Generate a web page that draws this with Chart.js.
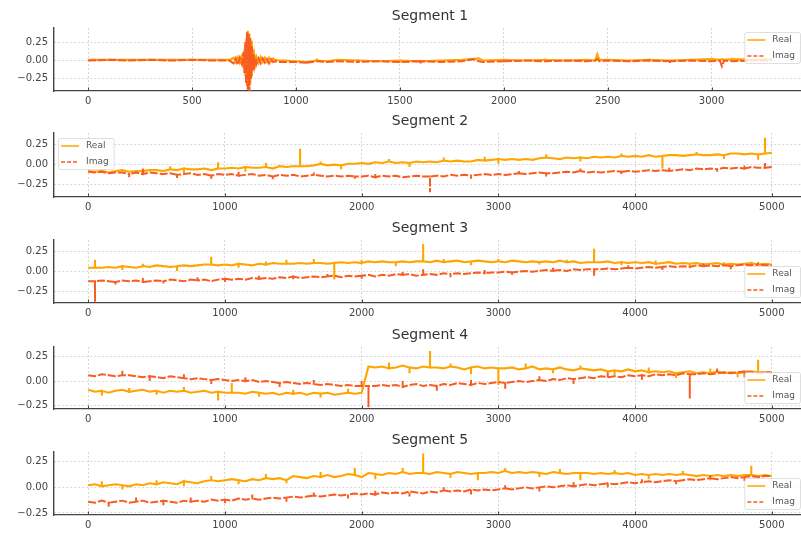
<!DOCTYPE html>
<html><head><meta charset="utf-8">
<script src="https://cdn.jsdelivr.net/npm/chart.js@4"></script>
<style>
html,body{margin:0;padding:0;background:#fff;width:801px;height:536px;overflow:hidden;position:relative;}
canvas{position:absolute;left:0;top:0;}
</style></head><body>
<script>
// ---------- data ----------
const titles = ['Segment 1','Segment 2','Segment 3','Segment 4','Segment 5'];
const seriesLabels = ['Real','Imag'];
const xTicksSeg1 = [0,500,1000,1500,2000,2500,3000];
const xTicks5k = [0,1000,2000,3000,4000,5000];
const yTicks = [-0.25,0,0.25];

const seg1X = [0,100,200,300,400,500,600,680,700,710,720,730,740,748,752,756,760,764,768,772,776,780,784,788,792,796,800,805,810,820,830,840,850,860,870,880,890,900,920,950,1000,1050,1100,1150,1200,1300,1400,1500,1600,1700,1800,1850,1880,1900,2000,2100,2200,2300,2400,2440,2450,2460,2500,2600,2700,2800,2900,3000,3040,3050,3060,3100,3200,3290];
const seg1Real = [0.01,0.01,0.01,0.01,0.01,0.01,0.01,0.01,0.04,-0.02,0.05,-0.03,0.06,-0.10,0.16,-0.22,0.30,-0.36,0.42,-0.40,0.38,-0.34,0.28,-0.22,0.16,-0.10,0.07,-0.04,0.05,-0.03,0.05,-0.02,0.04,-0.02,0.04,-0.01,0.03,0.01,0.00,0.00,-0.01,-0.02,0.00,-0.01,0.01,0.00,-0.01,0.00,-0.01,0.00,0.01,0.02,0.03,0.00,0.01,0.00,0.01,0.00,0.01,0.00,0.09,0.01,0.01,0.00,0.01,0.00,0.01,0.02,0.01,0.02,0.01,0.02,0.01,0.02];
const seg1Imag = [0.00,0.01,0.00,0.01,0.00,0.01,0.00,0.00,-0.04,0.03,-0.06,0.04,-0.05,0.12,-0.18,0.26,-0.33,0.40,-0.42,0.38,-0.44,0.32,-0.26,0.20,-0.14,0.09,-0.06,0.04,-0.05,0.03,-0.04,0.03,-0.03,0.02,-0.04,0.02,-0.02,-0.01,-0.02,-0.02,-0.02,-0.03,-0.01,-0.02,-0.01,-0.02,-0.01,-0.02,-0.01,-0.02,-0.01,0.02,-0.01,-0.02,-0.01,0.00,-0.01,0.00,-0.01,0.00,0.02,-0.01,0.00,-0.01,0.00,-0.01,0.00,-0.01,0.00,-0.08,0.00,-0.01,0.00,0.00];
const seg1RealSpikes = [[1100,0.03],[1500,-0.03],[2200,0.03],[2700,-0.02],[3100,0.04]];
const seg1ImagSpikes = [[1050,-0.05],[1300,0.01],[1600,-0.04],[2000,0.01],[2800,-0.04]];

// segments 2-5: one sample every 50 index units, 0..5000
const seg2Real = [-0.08,-0.09,-0.08,-0.10,-0.08,-0.07,-0.09,-0.08,-0.08,-0.07,-0.07,-0.08,-0.06,-0.07,-0.05,-0.06,-0.06,-0.05,-0.07,-0.05,-0.05,-0.04,-0.05,-0.03,-0.04,-0.04,-0.03,-0.05,-0.02,-0.03,-0.02,-0.02,-0.02,-0.01,0.01,-0.01,0.00,-0.01,0.01,0.01,0.02,0.01,0.03,0.02,0.04,0.02,0.03,0.02,0.04,0.03,0.04,0.03,0.05,0.04,0.05,0.04,0.04,0.06,0.05,0.06,0.07,0.06,0.07,0.06,0.07,0.06,0.08,0.09,0.08,0.07,0.09,0.08,0.09,0.08,0.10,0.09,0.10,0.09,0.11,0.10,0.11,0.10,0.12,0.10,0.11,0.12,0.12,0.11,0.12,0.13,0.12,0.12,0.13,0.12,0.14,0.14,0.13,0.14,0.13,0.14,0.15];
const seg2Imag = [-0.09,-0.10,-0.09,-0.11,-0.10,-0.10,-0.12,-0.10,-0.12,-0.10,-0.11,-0.12,-0.11,-0.13,-0.12,-0.11,-0.13,-0.12,-0.14,-0.12,-0.13,-0.12,-0.14,-0.13,-0.12,-0.14,-0.13,-0.15,-0.13,-0.14,-0.13,-0.15,-0.14,-0.13,-0.14,-0.15,-0.14,-0.15,-0.14,-0.15,-0.15,-0.14,-0.16,-0.14,-0.15,-0.14,-0.16,-0.15,-0.14,-0.15,-0.15,-0.14,-0.15,-0.13,-0.14,-0.13,-0.14,-0.13,-0.12,-0.13,-0.12,-0.13,-0.12,-0.11,-0.12,-0.11,-0.10,-0.11,-0.11,-0.10,-0.09,-0.10,-0.08,-0.10,-0.09,-0.10,-0.09,-0.08,-0.09,-0.08,-0.09,-0.08,-0.07,-0.08,-0.07,-0.08,-0.07,-0.06,-0.07,-0.05,-0.06,-0.05,-0.06,-0.04,-0.05,-0.04,-0.05,-0.03,-0.04,-0.04,-0.03];
const seg2RealSpikes = [[400,-0.13],[600,-0.02],[700,-0.11],[950,0.03],[1150,-0.09],[1300,0.02],[1550,0.20],[1700,0.04],[1850,-0.06],[2200,0.07],[2350,-0.03],[2600,0.09],[2900,0.10],[3000,0.01],[3350,0.13],[3600,0.04],[3900,0.14],[4200,-0.05],[4450,0.16],[4650,0.07],[4900,0.06],[4950,0.34]];
const seg2ImagSpikes = [[300,-0.16],[400,-0.05],[650,-0.17],[900,-0.18],[1100,-0.09],[1350,-0.19],[1650,-0.10],[1950,-0.18],[2100,-0.11],[2500,-0.35],[2800,-0.18],[3150,-0.08],[3350,-0.15],[3600,-0.05],[3900,-0.12],[4250,-0.04],[4600,-0.09],[4800,-0.01],[4950,0.02]];

const seg3Real = [0.05,0.05,0.05,0.06,0.05,0.07,0.06,0.05,0.07,0.06,0.08,0.07,0.06,0.07,0.08,0.07,0.08,0.09,0.09,0.08,0.09,0.08,0.10,0.09,0.08,0.10,0.09,0.11,0.10,0.10,0.10,0.11,0.10,0.11,0.11,0.10,0.11,0.12,0.11,0.12,0.11,0.13,0.12,0.13,0.12,0.12,0.13,0.12,0.13,0.13,0.12,0.14,0.12,0.13,0.14,0.12,0.13,0.14,0.13,0.12,0.13,0.12,0.14,0.13,0.12,0.13,0.12,0.13,0.12,0.14,0.12,0.13,0.11,0.12,0.12,0.12,0.13,0.11,0.12,0.11,0.12,0.11,0.12,0.10,0.11,0.12,0.10,0.11,0.10,0.11,0.09,0.10,0.11,0.09,0.10,0.09,0.10,0.11,0.09,0.10,0.09];
const seg3Imag = [-0.12,-0.12,-0.11,-0.12,-0.13,-0.11,-0.12,-0.11,-0.13,-0.12,-0.11,-0.12,-0.10,-0.11,-0.12,-0.10,-0.11,-0.10,-0.12,-0.10,-0.09,-0.10,-0.09,-0.10,-0.08,-0.09,-0.08,-0.09,-0.07,-0.08,-0.06,-0.08,-0.07,-0.06,-0.07,-0.06,-0.05,-0.07,-0.05,-0.06,-0.05,-0.04,-0.06,-0.04,-0.05,-0.03,-0.04,-0.03,-0.05,-0.04,-0.03,-0.04,-0.02,-0.03,-0.02,-0.03,-0.02,-0.01,-0.02,-0.01,-0.01,0.00,-0.01,0.00,0.01,0.00,0.01,0.02,0.01,0.02,0.01,0.03,0.02,0.03,0.03,0.03,0.04,0.03,0.04,0.05,0.04,0.05,0.06,0.05,0.06,0.07,0.06,0.07,0.06,0.08,0.07,0.08,0.07,0.08,0.07,0.08,0.09,0.08,0.09,0.08,0.08];
const seg3RealSpikes = [[50,0.15],[250,0.02],[400,0.10],[650,0.01],[900,0.19],[1100,0.05],[1300,0.13],[1450,0.15],[1650,0.16],[1800,-0.10],[2000,0.15],[2250,0.07],[2450,0.35],[2600,0.16],[2800,0.08],[3000,0.16],[3300,0.09],[3500,0.15],[3700,0.29],[3900,0.08],[4150,0.14],[4400,0.07],[4650,0.12],[4850,0.06]];
const seg3ImagSpikes = [[50,-0.38],[200,-0.16],[400,-0.08],[550,-0.15],[800,-0.07],[1000,-0.13],[1250,-0.05],[1500,-0.10],[1750,-0.02],[2000,-0.09],[2300,0.00],[2450,0.03],[2650,-0.07],[2900,0.02],[3100,-0.05],[3400,0.05],[3700,-0.05],[3950,0.08],[4200,0.02],[4500,0.11],[4700,0.03],[4900,0.12]];

const seg4Real = [-0.09,-0.11,-0.10,-0.12,-0.10,-0.09,-0.11,-0.10,-0.09,-0.11,-0.10,-0.12,-0.10,-0.11,-0.10,-0.12,-0.11,-0.10,-0.12,-0.11,-0.12,-0.12,-0.12,-0.13,-0.11,-0.12,-0.13,-0.12,-0.14,-0.12,-0.13,-0.12,-0.14,-0.12,-0.13,-0.12,-0.14,-0.13,-0.12,-0.13,-0.12,0.15,0.14,0.15,0.13,0.14,0.16,0.14,0.13,0.15,0.14,0.14,0.13,0.15,0.14,0.12,0.14,0.15,0.13,0.14,0.13,0.13,0.14,0.12,0.13,0.15,0.12,0.13,0.12,0.14,0.12,0.11,0.13,0.12,0.11,0.12,0.10,0.11,0.10,0.12,0.10,0.11,0.09,0.10,0.09,0.10,0.08,0.09,0.10,0.08,0.09,0.08,0.10,0.08,0.09,0.08,0.09,0.10,0.09,0.09,0.08];
const seg4Imag = [0.06,0.05,0.07,0.06,0.05,0.06,0.06,0.05,0.04,0.05,0.04,0.03,0.05,0.04,0.03,0.02,0.03,0.02,0.01,0.02,0.01,0.00,0.01,0.00,0.01,-0.01,0.00,-0.01,-0.02,-0.01,-0.02,-0.03,-0.02,-0.03,-0.04,-0.03,-0.04,-0.05,-0.04,-0.05,-0.05,-0.05,-0.05,-0.04,-0.05,-0.04,-0.06,-0.04,-0.03,-0.05,-0.04,-0.05,-0.03,-0.04,-0.02,-0.03,-0.04,-0.02,-0.03,-0.02,-0.01,-0.02,-0.01,0.00,-0.01,0.00,0.01,0.00,0.02,0.01,0.03,0.02,0.03,0.04,0.03,0.05,0.04,0.05,0.04,0.06,0.05,0.06,0.05,0.07,0.06,0.07,0.06,0.08,0.07,0.07,0.08,0.07,0.08,0.09,0.08,0.09,0.10,0.09,0.08,0.09,0.09];
const seg4RealSpikes = [[100,-0.15],[300,-0.07],[500,-0.14],[700,-0.06],[950,-0.20],[1050,-0.02],[1250,-0.16],[1500,-0.09],[1700,-0.17],[1900,-0.08],[2200,0.19],[2350,0.08],[2500,0.31],[2650,0.18],[2800,0.07],[3000,-0.04],[3200,0.18],[3400,0.08],[3600,0.16],[3850,0.06],[4100,0.14],[4300,0.03],[4550,0.13],[4750,0.04],[4900,0.22]];
const seg4ImagSpikes = [[250,0.11],[450,0.00],[700,0.07],[900,-0.03],[1150,0.05],[1400,-0.06],[1650,0.01],[2000,0.00],[2050,-0.27],[2300,0.00],[2550,-0.10],[2800,0.01],[3050,-0.08],[3300,0.05],[3550,-0.03],[3800,0.09],[4050,0.01],[4400,-0.18],[4600,0.13],[4800,0.04]];

const seg5Real = [0.02,0.03,0.01,0.02,0.03,0.02,0.01,0.03,0.02,0.04,0.03,0.05,0.04,0.03,0.06,0.05,0.04,0.06,0.07,0.06,0.07,0.08,0.07,0.06,0.08,0.07,0.09,0.08,0.09,0.07,0.11,0.10,0.09,0.11,0.10,0.12,0.10,0.11,0.13,0.12,0.10,0.14,0.13,0.12,0.14,0.13,0.15,0.13,0.14,0.14,0.13,0.15,0.14,0.13,0.15,0.14,0.13,0.14,0.14,0.15,0.14,0.16,0.14,0.15,0.14,0.15,0.14,0.13,0.15,0.14,0.13,0.14,0.14,0.14,0.13,0.14,0.13,0.14,0.13,0.14,0.12,0.13,0.12,0.13,0.12,0.13,0.12,0.13,0.12,0.11,0.12,0.11,0.12,0.11,0.12,0.11,0.12,0.12,0.11,0.12,0.11];
const seg5Imag = [-0.14,-0.15,-0.13,-0.15,-0.14,-0.13,-0.15,-0.14,-0.13,-0.15,-0.14,-0.13,-0.14,-0.15,-0.13,-0.14,-0.13,-0.14,-0.12,-0.13,-0.12,-0.13,-0.11,-0.12,-0.11,-0.12,-0.11,-0.10,-0.11,-0.10,-0.09,-0.10,-0.09,-0.08,-0.09,-0.08,-0.07,-0.08,-0.07,-0.06,-0.07,-0.06,-0.07,-0.05,-0.06,-0.05,-0.06,-0.04,-0.05,-0.06,-0.04,-0.05,-0.03,-0.04,-0.03,-0.04,-0.02,-0.03,-0.02,-0.03,-0.02,-0.01,-0.02,-0.01,0.00,-0.01,0.00,0.01,0.00,0.01,0.02,0.01,0.02,0.03,0.02,0.03,0.04,0.03,0.04,0.05,0.04,0.05,0.06,0.05,0.06,0.07,0.06,0.07,0.08,0.07,0.08,0.09,0.08,0.09,0.10,0.09,0.10,0.11,0.10,0.11,0.11];
const seg5RealSpikes = [[100,0.06],[250,-0.02],[500,0.07],[700,0.01],[900,0.11],[1100,0.03],[1300,0.13],[1450,0.04],[1700,0.15],[1950,0.19],[2100,0.08],[2300,0.19],[2450,0.33],[2650,0.09],[2850,0.07],[3050,0.19],[3300,0.10],[3450,0.18],[3600,0.07],[3850,0.17],[4100,0.08],[4350,0.16],[4550,0.07],[4850,0.21]];
const seg5ImagSpikes = [[150,-0.19],[350,-0.10],[550,-0.18],[750,-0.10],[1000,-0.16],[1200,-0.07],[1450,-0.14],[1650,-0.05],[1900,-0.11],[2100,-0.03],[2350,-0.09],[2600,0.00],[2800,-0.07],[3050,0.02],[3300,-0.04],[3550,0.05],[3800,0.00],[4050,0.08],[4300,0.03],[4550,0.12],[4800,0.06]];
const sampleStep = 50;

// ---------- layout / style ----------
const REAL_COLOR = '#ffa500';
const IMAG_COLOR = '#f95c22';
const panels = [
  {xs: seg1X, re: seg1Real, im: seg1Imag, reS: seg1RealSpikes, imS: seg1ImagSpikes, xt: xTicksSeg1, xmin:-164.5, xmax:3454.5, top:28, bottom:91, ymin:-0.43, ymax:0.46, leg:'ur'},
  {re: seg2Real, im: seg2Imag, reS: seg2RealSpikes, imS: seg2ImagSpikes, xt: xTicks5k, xmin:-250, xmax:5250, top:133, bottom:197, ymin:-0.41, ymax:0.40, leg:'ul'},
  {re: seg3Real, im: seg3Imag, reS: seg3RealSpikes, imS: seg3ImagSpikes, xt: xTicks5k, xmin:-250, xmax:5250, top:240, bottom:303, ymin:-0.395, ymax:0.40, leg:'lr'},
  {re: seg4Real, im: seg4Imag, reS: seg4RealSpikes, imS: seg4ImagSpikes, xt: xTicks5k, xmin:-250, xmax:5250, top:347, bottom:409, ymin:-0.287, ymax:0.35, leg:'lr'},
  {re: seg5Real, im: seg5Imag, reS: seg5RealSpikes, imS: seg5ImagSpikes, xt: xTicks5k, xmin:-250, xmax:5250, top:452, bottom:515, ymin:-0.27, ymax:0.345, leg:'lr'}
];

Chart.defaults.font.family = '"DejaVu Sans", sans-serif';
Chart.defaults.font.size = 10;
Chart.defaults.color = '#444';

const W = 820, H = 536, XAXIS_H = 20, YAXIS_W = 54;

function fmtY(v){ if (Math.abs(v) < 1e-9) return '0.00'; return (v < 0 ? '\u2212' : '') + Math.abs(v).toFixed(2); }

const decorPlugin = {
  id: 'decor',
  afterDraw(chart, args, opts) {
    const ctx = chart.ctx, a = chart.chartArea;
    ctx.save();
    const xs = chart.scales.x;
    ctx.strokeStyle = '#444'; ctx.lineWidth = 1;
    opts.xt.forEach(v => {
      const px = Math.round(xs.getPixelForValue(v)) + 0.5;
      ctx.beginPath(); ctx.moveTo(px, a.bottom); ctx.lineTo(px, a.bottom - 3.5); ctx.stroke();
    });
    ctx.fillStyle = '#333';
    ctx.font = '14px "DejaVu Sans", sans-serif';
    ctx.textAlign = 'center'; ctx.textBaseline = 'middle';
    ctx.fillText(opts.title, (a.left + a.right) / 2, a.top - 12);
    ctx.font = '9px "DejaVu Sans", sans-serif';
    const tw = Math.max(...seriesLabels.map(s => ctx.measureText(s).width));
    const bw = 3 + 18 + 7 + tw + 5, bh = 31;
    let bx, by;
    if (opts.leg === 'ur') { bx = a.right - 6 - bw; by = a.top + 4; }
    else if (opts.leg === 'ul') { bx = a.left + 4; by = a.top + 5; }
    else { bx = a.right - 6 - bw; by = a.bottom - 6 - bh; }
    ctx.fillStyle = 'rgba(255,255,255,0.8)';
    ctx.strokeStyle = 'rgba(204,204,204,0.8)'; ctx.lineWidth = 0.8;
    ctx.beginPath();
    if (ctx.roundRect) ctx.roundRect(bx + 0.5, by + 0.5, bw, bh, 2); else ctx.rect(bx + 0.5, by + 0.5, bw, bh);
    ctx.fill(); ctx.stroke();
    const colors = [REAL_COLOR, IMAG_COLOR];
    seriesLabels.forEach((s, i) => {
      const cy = by + 8 + i * 16;
      ctx.strokeStyle = colors[i]; ctx.lineWidth = 1.5;
      ctx.setLineDash(i === 1 ? [4, 2] : []);
      ctx.beginPath(); ctx.moveTo(bx + 3, cy); ctx.lineTo(bx + 21, cy); ctx.stroke();
      ctx.setLineDash([]);
      ctx.fillStyle = '#555'; ctx.textAlign = 'left'; ctx.textBaseline = 'middle';
      ctx.fillText(s, bx + 28, cy);
    });
    ctx.restore();
  }
};

// series samples in order; a spike adds a vertical excursion at its sample position
function buildPoints(xOf, base, spikes) {
  const sp = new Map(spikes.map(s => [s[0], s[1]]));
  const pts = [];
  base.forEach((y, i) => {
    const x = xOf(i);
    pts.push({x, y});
    if (sp.has(x)) { pts.push({x, y: sp.get(x)}); pts.push({x, y}); }
  });
  return pts;
}

panels.forEach((p, idx) => {
  const c = document.createElement('canvas');
  c.width = W; c.height = H;
  c.style.width = W + 'px'; c.style.height = H + 'px';
  document.body.appendChild(c);
  const xOf = i => p.xs ? p.xs[i] : i * sampleStep;
  new Chart(c, {
    type: 'line',
    data: {
      datasets: [
        {label: seriesLabels[0], data: buildPoints(xOf, p.re, p.reS), borderColor: REAL_COLOR, borderWidth: 2.1, pointRadius: 0, tension: 0, fill: false, order: 2},
        {label: seriesLabels[1], data: buildPoints(xOf, p.im, p.imS), borderColor: IMAG_COLOR, borderWidth: 2.0, borderDash: [8, 2], pointRadius: 0, tension: 0, fill: false, order: 1}
      ]
    },
    options: {
      responsive: false, animation: false, devicePixelRatio: 1,
      events: [],
      layout: {padding: {top: p.top, bottom: H - p.bottom - XAXIS_H, left: 0, right: W - 806}},
      plugins: {legend: {display: false}, tooltip: {enabled: false}, title: {display: false},
                decor: {title: titles[idx], leg: p.leg, xt: p.xt}},
      scales: {
        x: {
          type: 'linear', min: p.xmin, max: p.xmax,
          afterBuildTicks: s => { s.ticks = p.xt.map(v => ({value: v})); },
          afterFit: s => { s.height = XAXIS_H; },
          ticks: {padding: 4, maxRotation: 0, autoSkip: false, callback: v => String(v), color: '#444'},
          grid: {color: '#cfcfcf', lineWidth: 0.8, drawTicks: false},
          border: {display: true, color: '#444', width: 1.2, dash: [2, 2]}
        },
        y: {
          type: 'linear', min: p.ymin, max: p.ymax,
          afterBuildTicks: s => { s.ticks = yTicks.map(v => ({value: v})); },
          afterFit: s => { s.width = YAXIS_W; },
          ticks: {padding: 6, autoSkip: false, callback: v => fmtY(v), color: '#444'},
          grid: {color: '#cfcfcf', lineWidth: 0.8, drawTicks: false},
          border: {display: true, color: '#444', width: 1.4, dash: [2, 2]}
        }
      }
    },
    plugins: [decorPlugin]
  });
});
</script>
</body></html>
